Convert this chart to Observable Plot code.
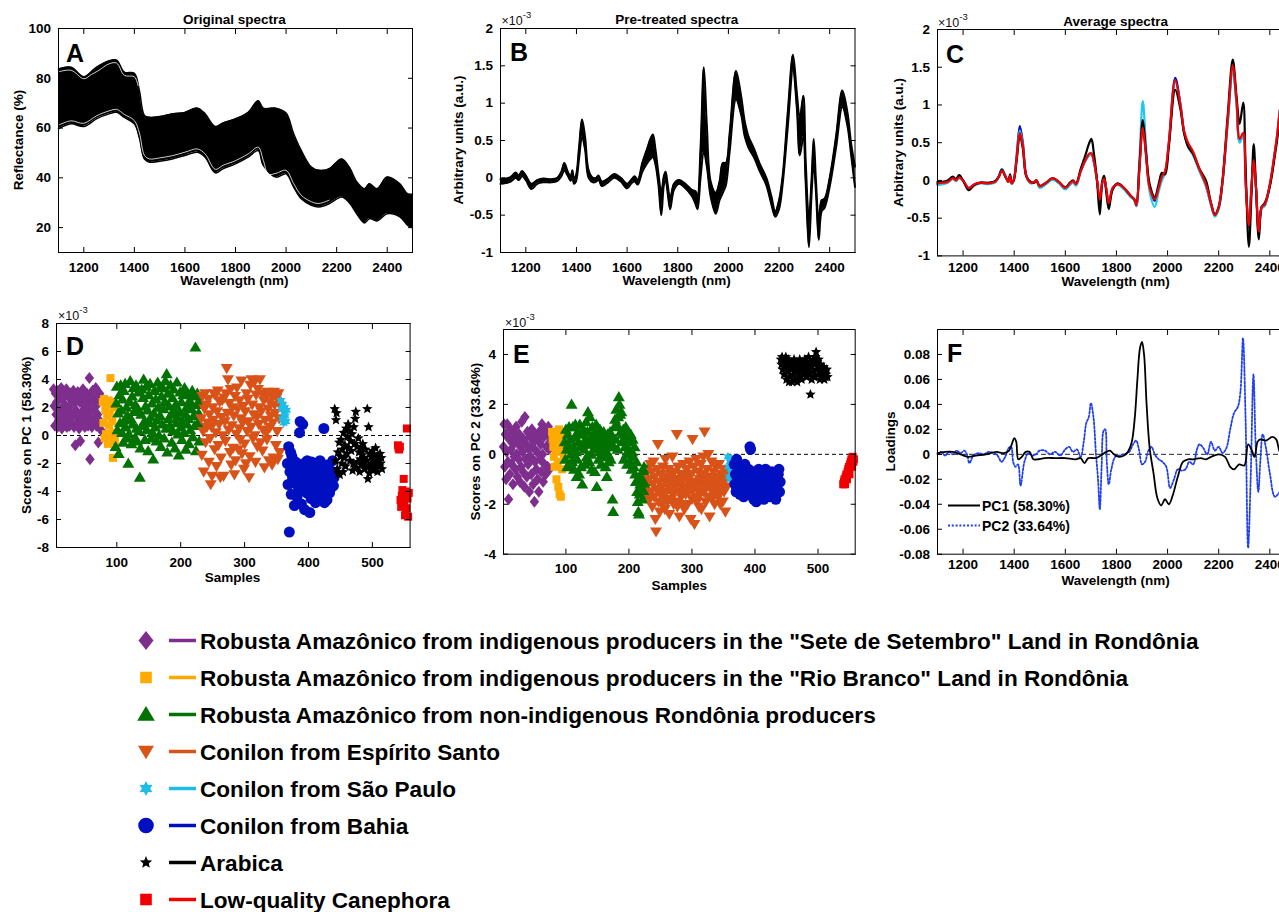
<!DOCTYPE html>
<html><head><meta charset="utf-8">
<script src="https://cdn.jsdelivr.net/npm/d3@7"></script>
<script src="https://cdn.jsdelivr.net/npm/@observablehq/plot@0.6"></script>
<style>
html,body{margin:0;padding:0;background:#fff;overflow:hidden;}
body{width:1279px;height:912px;position:relative;font-family:'Liberation Sans',Arial,Helvetica,sans-serif;}
.pan{position:absolute;}
#overlay{position:absolute;left:0;top:0;pointer-events:none;}
</style></head><body>
<script>
// ---------------- DATA ----------------
// Panel A: envelope of original spectra (reflectance %)
const A_WL = [1100,1150,1200,1250,1300,1330,1360,1400,1420,1440,1460,1500,1550,1600,1650,1680,1720,1750,1800,1850,1890,1910,1960,2000,2030,2060,2100,2130,2170,2220,2250,2280,2310,2330,2360,2400,2450,2480,2500];
const A_HI = [83.7,84.4,80.6,84.4,87,87.3,82.5,82,75,65,64.3,64.6,65.7,66.3,68,65.7,60.6,62,63.7,66.3,71,68,68,66,57.7,51,44.3,43,43.6,47.6,44.3,38.3,35.6,37.6,35.6,40.3,37.6,33.6,33.4];
const A_LO = [59.7,61.7,60.6,63.7,65.7,66.3,64.3,61.7,56,47.5,46.3,46.7,47.6,49,50.3,48.3,42,43.6,45.6,48.3,51,45,40.3,41.6,36.3,31.6,29,28.3,29.6,32.3,30,25.5,21.9,23.6,22.7,25.6,24.3,21,19.9];
// individual spectra visible as white gaps near the band edges [wavelength, reflectance]
const A_GAP_HI = [[1100,82.6],[1150,83.2],[1200,79.8],[1230,81.5],[1260,83.2],[1300,85.8],[1330,86.1],[1360,81.2],[1400,80.6],[1415,77]];
const A_GAP_LO = [[1100,61.2],[1150,62.9],[1200,61.9],[1250,64.9],[1300,66.9],[1330,67.5],[1360,65.5],[1400,63],[1420,58],[1440,49],[1460,47.6],[1500,48],[1550,48.9],[1600,50.3],[1650,51.6],[1680,49.6],[1720,43.4],[1750,45],[1800,46.9],[1850,49.6],[1890,52.3],[1910,47],[1930,41.5],[1960,41.8],[2000,43],[2030,37.7],[2060,33],[2100,30.4],[2130,29.7],[2170,31]];

// Panels B and C: shared wavelength grid (nm), values in units of 1e-3
const BC_WL = [1100,1120,1140,1160,1172,1185,1200,1222,1245,1270,
1300,1325,1340,1352,1365,1377,1384,1390,1398,1410,
1422,1434,1448,1465,1478,1487,1500,1525,1550,1575,
1600,1618,1630,1642,1660,1680,1692,1702,1712,1724,
1735,1745,1752,1760,1770,1785,1805,1830,1855,1870,
1878,1890,1903,1915,1930,1950,1965,1978,1990,2005,
2030,2050,2065,2080,2100,2125,2150,2170,2185,2200,
2215,2235,2255,2270,2282,2296,2305,2318,2328,2337,
2346,2357,2368,2380,2400,2425,2450,2470,2485,2500];
const B_HI = [-0.02,-0.01,0.01,0.07,0.03,0.09,0.03,-0.08,-0.03,-0.01,
-0.02,0.0,0.08,0.2,0.09,0.02,0.1,-0.01,0.03,0.4,
0.78,0.55,0.1,0.0,0.0,0.03,-0.05,-0.01,0.05,0.0,
-0.08,-0.02,0.02,-0.03,0.2,0.4,0.52,0.58,0.38,0.05,
-0.2,0.02,0.08,-0.08,-0.28,-0.08,-0.03,-0.08,-0.16,-0.18,
-0.25,0.4,1.48,0.7,-0.05,-0.2,-0.05,0.2,0.2,0.6,
1.43,1.1,0.75,0.55,0.4,0.18,0.0,-0.25,-0.45,-0.3,
0.05,0.9,1.65,1.15,0.8,1.1,0.25,-0.55,-0.05,0.52,
-0.05,-0.6,-0.3,-0.28,0.0,0.55,1.17,0.88,0.45,0.15];
const B_LO = [-0.08,-0.07,-0.05,0.0,-0.03,0.02,-0.03,-0.15,-0.08,-0.06,
-0.06,-0.04,0.02,0.1,0.03,-0.04,0.03,-0.08,-0.05,0.25,
0.55,0.38,0.0,-0.06,-0.05,-0.02,-0.11,-0.06,0.0,-0.05,
-0.14,-0.07,-0.05,-0.09,0.08,0.2,0.25,0.28,0.18,-0.1,
-0.5,-0.1,-0.02,-0.2,-0.42,-0.16,-0.08,-0.14,-0.24,-0.35,
-0.42,0.0,0.35,0.15,-0.25,-0.48,-0.3,-0.2,-0.1,0.35,
1.05,0.85,0.55,0.4,0.28,0.08,-0.1,-0.36,-0.52,-0.42,
-0.06,0.7,1.45,0.95,0.3,0.55,-0.05,-0.93,-0.25,0.2,
-0.2,-0.83,-0.45,-0.4,-0.12,0.4,0.95,0.7,0.3,-0.12];
const C_RED = [-0.04,-0.03,-0.02,0.03,0.0,0.04,0.0,-0.1,-0.05,-0.03,
-0.04,-0.02,0.05,0.13,0.06,-0.02,0.06,-0.04,0.0,0.3,
0.63,0.45,0.05,-0.03,-0.02,0.0,-0.08,-0.03,0.03,-0.02,
-0.1,-0.04,-0.01,-0.05,0.12,0.28,0.35,0.36,0.25,0.0,
-0.25,-0.02,0.02,-0.1,-0.3,-0.1,-0.05,-0.1,-0.2,-0.25,
-0.33,0.15,0.7,0.35,-0.1,-0.25,-0.1,0.05,0.12,0.5,
1.33,1.0,0.65,0.5,0.38,0.15,-0.05,-0.3,-0.46,-0.35,
0.0,0.8,1.52,1.05,0.55,0.63,0.0,-0.6,-0.1,0.27,
-0.1,-0.68,-0.35,-0.32,-0.05,0.5,1.1,0.8,0.4,-0.05];
const C_BLACK = [-0.02,-0.02,0.0,0.05,0.02,0.07,0.0,-0.13,-0.06,-0.03,
-0.03,-0.01,0.05,0.14,0.05,0.0,0.08,-0.03,0.0,0.28,
0.6,0.42,0.05,-0.02,-0.03,0.0,-0.07,-0.03,0.03,-0.02,
-0.09,-0.03,0.0,-0.04,0.15,0.35,0.48,0.55,0.35,0.0,
-0.45,0.0,0.06,-0.15,-0.38,-0.12,-0.04,-0.1,-0.2,-0.25,
-0.3,0.2,0.8,0.4,-0.05,-0.22,-0.05,0.1,0.08,0.45,
1.2,0.95,0.62,0.45,0.35,0.15,0.0,-0.3,-0.45,-0.35,
0.0,0.85,1.6,1.1,0.75,1.03,0.2,-0.88,-0.2,0.48,
-0.1,-0.78,-0.35,-0.3,-0.08,0.45,0.97,0.75,0.4,0.0];
const C_CYAN = [-0.06,-0.05,-0.03,0.02,-0.01,0.03,-0.01,-0.1,-0.06,-0.04,
-0.05,-0.03,0.05,0.15,0.07,-0.02,0.05,-0.05,0.0,0.32,
0.66,0.46,0.04,-0.04,-0.03,-0.01,-0.1,-0.05,0.01,-0.04,
-0.12,-0.06,-0.03,-0.07,0.12,0.27,0.33,0.34,0.24,0.0,
-0.28,-0.03,0.02,-0.12,-0.32,-0.12,-0.06,-0.12,-0.22,-0.26,
-0.34,0.3,1.05,0.5,-0.15,-0.35,-0.15,0.0,0.1,0.48,
1.3,1.0,0.62,0.45,0.33,0.12,-0.08,-0.33,-0.48,-0.38,
-0.03,0.75,1.45,1.0,0.5,0.6,0.0,-0.58,-0.1,0.28,
-0.1,-0.68,-0.37,-0.34,-0.07,0.5,1.08,0.8,0.4,-0.05];
const C_BLUE = [-0.05,-0.04,-0.02,0.03,0.0,0.04,0.0,-0.1,-0.05,-0.03,
-0.04,-0.02,0.06,0.15,0.06,-0.02,0.05,-0.04,0.0,0.35,
0.72,0.5,0.06,-0.03,-0.02,0.0,-0.09,-0.04,0.02,-0.03,
-0.11,-0.05,-0.02,-0.06,0.12,0.27,0.33,0.35,0.24,0.0,
-0.27,-0.03,0.02,-0.11,-0.31,-0.11,-0.05,-0.11,-0.21,-0.26,
-0.34,0.2,0.75,0.38,-0.1,-0.27,-0.11,0.03,0.1,0.5,
1.36,1.02,0.64,0.47,0.35,0.13,-0.07,-0.32,-0.47,-0.37,
-0.02,0.76,1.48,1.02,0.52,0.6,0.0,-0.62,-0.1,0.28,
-0.1,-0.7,-0.36,-0.33,-0.06,0.5,1.1,0.8,0.4,-0.05];

// Panel F: loadings [wavelength, loading]
const PC1 = [[1100,0.001],[1130,0.002],[1160,0.002],[1190,0.0],[1220,-0.002],[1250,-0.001],[1290,0.0],[1330,0.002],[1360,0.001],[1380,0.003],[1392,0.009],[1400,0.013],[1408,0.01],[1416,-0.004],[1430,-0.002],[1445,0.002],[1460,0.002],[1475,-0.004],[1490,-0.004],[1520,-0.003],[1560,-0.003],[1600,-0.003],[1640,-0.004],[1660,-0.003],[1675,-0.007],[1690,-0.003],[1720,-0.003],[1745,0.0],[1760,0.002],[1775,0.003],[1790,0.0],[1810,-0.002],[1830,-0.001],[1845,0.002],[1860,0.01],[1872,0.03],[1882,0.06],[1892,0.085],[1900,0.09],[1908,0.08],[1918,0.04],[1930,0.005],[1945,-0.015],[1960,-0.035],[1975,-0.041],[1990,-0.036],[2005,-0.04],[2020,-0.033],[2040,-0.018],[2060,-0.006],[2080,-0.004],[2100,-0.004],[2130,-0.003],[2150,-0.004],[2170,-0.002],[2200,0.0],[2225,-0.002],[2245,-0.01],[2260,-0.012],[2280,-0.008],[2300,-0.009],[2315,0.008],[2328,0.004],[2340,-0.002],[2352,0.01],[2362,0.012],[2385,0.011],[2410,0.014],[2425,0.012],[2437,0.003],[2450,-0.002],[2470,-0.002],[2500,0.0]];
const PC2 = [[1100,0.0],[1115,0.002],[1130,-0.001],[1145,0.002],[1160,0.0],[1175,0.003],[1190,0.001],[1205,0.003],[1215,0.0],[1225,-0.007],[1240,-0.001],[1260,0.001],[1280,0.0],[1300,0.002],[1320,0.001],[1335,-0.001],[1350,-0.006],[1365,-0.002],[1378,0.005],[1388,0.006],[1396,-0.006],[1405,-0.01],[1415,-0.008],[1425,-0.025],[1440,-0.006],[1455,0.001],[1470,-0.001],[1485,0.0],[1500,0.003],[1520,0.003],[1540,0.0],[1560,0.002],[1580,-0.001],[1600,0.004],[1615,0.006],[1630,0.002],[1645,0.004],[1660,-0.002],[1672,0.01],[1682,0.025],[1692,0.03],[1700,0.041],[1710,0.03],[1720,0.0],[1728,-0.02],[1735,-0.044],[1742,-0.01],[1750,0.019],[1756,0.02],[1762,-0.005],[1770,-0.024],[1780,-0.012],[1795,-0.002],[1810,-0.001],[1830,0.0],[1850,0.002],[1865,0.008],[1877,0.011],[1888,0.004],[1900,-0.008],[1912,-0.006],[1925,0.003],[1937,0.006],[1950,0.0],[1965,-0.004],[1980,-0.006],[1995,-0.01],[2010,-0.027],[2025,-0.02],[2040,-0.012],[2055,-0.013],[2070,-0.012],[2085,-0.006],[2100,-0.008],[2115,0.004],[2125,0.008],[2140,0.005],[2155,0.0],[2170,0.01],[2185,0.003],[2200,0.006],[2215,0.001],[2230,0.005],[2245,0.02],[2260,0.033],[2275,0.038],[2285,0.05],[2295,0.093],[2305,0.03],[2315,-0.075],[2325,-0.02],[2336,0.064],[2345,0.005],[2355,-0.03],[2363,-0.005],[2372,0.016],[2385,0.005],[2400,-0.015],[2420,-0.034],[2440,-0.03],[2460,-0.027],[2480,-0.025],[2500,-0.02]];

// Groups (classes)
const GROUP_NAMES = [
 'Robusta Amazônico from indigenous producers in the "Sete de Setembro" Land in Rondônia',
 'Robusta Amazônico from indigenous producers in the "Rio Branco" Land in Rondônia',
 'Robusta Amazônico from non-indigenous Rondônia producers',
 'Conilon from Espírito Santo',
 'Conilon from São Paulo',
 'Conilon from Bahia',
 'Arabica',
 'Low-quality Canephora'];
const GROUP_COLORS = ["#7E2F8E","#FFAA00","#027202","#D95319","#1FBDE6","#0010C0","#000000","#F00000"];
const GROUP_START = [1,78,98,232,357,367,441,540];   // first sample index of each class

// Panel D: scores on PC1 (x 1e-3), consecutive samples from GROUP_START
const D_PURPLE = [3.3,2.1,0.7,3.0,1.5,2.4,0.6,3.2,1.1,2.8,0.9,1.9,3.4,0.5,2.6,1.3,3.1,0.8,2.2,1.7,3.3,0.6,2.9,1.2,2.0,0.7,3.0,1.6,2.5,0.9,1.4,3.2,0.6,2.3,-0.7,1.8,2.7,0.9,3.1,1.2,0.5,2.4,-0.4,1.6,2.9,0.8,3.3,1.4,2.1,0.6,2.6,1.0,3.0,1.7,0.7,2.3,4.1,-1.7,1.3,2.8,0.6,3.2,1.9,0.9,2.5,1.1,3.4,0.7,2.2,1.5,-0.5,2.9,3.0,1.0,0.4];
const D_YELLOW = [2.4,0.9,2.6,-0.2,1.8,0.1,2.2,1.4,-0.6,2.5,0.7,1.6,4.1,2.4,-0.3,1.0,-1.6,0.2,2.0,-0.4];
const D_GREEN = [-0.8,2.3,3.5,0.4,1.6,-1.3,2.9,0.9,3.6,1.8,0.2,2.6,-0.5,3.2,1.1,3.7,0.6,2.0,-0.2,1.4,-2.0,0.1,2.4,3.9,1.2,-0.6,2.8,0.8,3.4,1.7,-0.2,2.2,3.6,0.5,-0.4,1.9,3.1,0.3,-3.0,-0.9,1.5,3.3,0.7,2.7,4.0,1.0,-0.3,2.1,3.5,0.4,1.8,-1.1,2.9,0.9,3.7,1.3,-0.2,2.3,0.2,-1.7,1.6,3.2,0.6,2.6,-0.4,1.1,3.8,2.0,0.0,3.4,1.4,-0.8,2.8,0.8,3.4,1.9,-0.2,2.4,3.9,0.5,4.4,-1.2,3.0,1.2,2.1,0.7,3.6,1.5,-0.5,2.7,0.3,3.3,1.8,-0.9,2.2,0.9,3.8,1.3,0.1,-1.4,1.7,3.1,0.6,2.4,-0.3,1.0,2.9,0.2,3.4,1.5,-1.0,2.0,0.8,3.0,1.2,-0.6,2.5,0.4,2.2,1.9,3.2,-0.1,1.4,2.8,0.7,6.3,-1.1,2.2,3.0,0.9,1.6,-0.4,2.4];
const D_ORANGE = [1.2,-1.4,2.8,0.3,-2.6,1.9,3.0,-0.5,2.2,0.6,0.9,2.6,-1.9,1.5,-0.2,-3.5,0.6,-2.9,2.0,1.1,3.0,-1.0,2.9,0.2,-2.2,1.7,3.2,-0.7,0.8,2.4,-3.0,-1.6,1.3,2.5,0.0,-2.9,2.7,1.0,-0.4,3.0,4.8,1.6,4.0,0.4,2.3,-1.2,3.3,-2.1,0.7,2.0,-0.9,1.4,-2.8,2.8,-1.8,0.1,3.4,1.9,-1.0,0.5,2.5,-0.3,1.2,3.9,-1.3,0.9,2.1,-2.4,-0.6,1.7,-2.0,3.0,0.3,2.6,1.0,-3.0,-1.5,3.6,0.6,4.0,2.2,-0.2,1.5,3.8,0.0,-1.9,2.9,1.3,-0.8,3.3,0.8,2.0,4.0,-0.5,1.7,3.0,-1.1,0.4,2.5,-2.3,1.1,2.8,0.2,-0.3,3.1,1.9,-1.8,2.4,0.6,1.4,2.9,-2.1,0.9,-1.6,3.1,2.2,1.6,-0.7,2.7,0.3,-1.7,3.0,1.2,-1.2,2.1];
const D_CYAN = [2.5,1.9,1.2,2.2,0.9,1.6,2.0,1.4,1.0,1.8];
const D_BLUE = [-2.0,-3.5,-0.8,-6.9,-2.6,-1.2,-4.2,-1.5,-3.0,-2.4,-2.2,-5.0,-3.4,-1.9,-2.8,-4.4,-3.6,-2.5,-4.0,0.2,1.0,-3.1,-4.9,-2.4,0.8,-3.8,-2.0,-5.3,-3.2,-2.7,-4.1,-1.8,-3.5,-2.3,-3.9,-5.5,-2.9,-4.5,-1.9,-3.3,-2.5,-4.2,-3.0,-2.0,-4.8,-3.6,-2.6,-3.9,-2.8,-4.4,-3.3,-1.8,-3.1,-2.2,-4.0,-2.9,-3.6,0.5,-4.8,-2.4,-3.8,-2.1,-4.6,-3.0,-2.7,-3.4,-4.1,-2.5,-3.2,-3.7,-2.6,-1.8,-3.6,-3.0];
const D_BLACK = [1.9,-1.8,1.1,1.6,-2.4,-1.2,-2.7,-0.5,-2.8,-1.5,-0.3,-2.0,-1.0,-2.6,0.2,-1.6,-0.7,-2.2,0.5,-1.3,-0.1,0.8,-0.9,0.3,-1.8,-0.4,-1.1,0.1,-2.5,-2.0,0.6,-0.6,1.2,1.7,-2.3,-0.8,-1.9,-0.2,-1.2,-2.6,-1.7,-0.9,-2.1,-1.4,-0.6,-2.0,-1.6,-2.4,-1.0,-2.2,-1.8,1.9,-3.1,0.6,-2.7,-1.3,-2.2,-1.5,-2.0,-1.1,-2.5,-1.9,-1.4,-2.3,-0.9,-1.7,-2.1,-2.6,-1.5,-1.8,-2.2,-1.3,-2.0,-1.6,-2.4];
const D_RED = [-0.7,-0.9,-1.0,-0.8,-4.6,-5.1,-4.3,-3.9,-5.0,-3.1,-4.8,-5.7,-4.0,-5.2,0.5,-4.5,-5.8,-4.1];

// Panel E: scores on PC2 (x 1e-3)
const E_PURPLE = [0.3,1.2,-0.5,0.8,-1.0,0.1,1.2,-0.3,-1.8,0.6,-0.8,1.0,0.2,-0.4,0.9,-1.2,0.4,-0.1,0.7,-0.6,1.1,0.0,-0.9,0.5,-0.2,0.8,-1.1,0.3,-0.5,1.3,0.1,-0.7,0.6,-1.3,1.5,-0.2,0.4,-0.9,0.9,-0.4,0.2,-1.5,0.7,-0.1,-0.8,1.0,0.3,-1.2,0.5,-1.9,-0.3,0.8,-0.6,0.1,-1.0,0.6,-1.5,0.9,-0.2,0.4,-0.7,1.2,0.0,-1.1,0.7,-0.4,1.0,-0.8,0.3,0.8,-0.5,1.1,0.2,-0.6,0.5];
const E_YELLOW = [0.9,0.6,0.3,-0.1,-0.5,0.8,0.1,-1.0,0.5,-0.3,-1.3,1.0,-1.6,0.2,-1.7,0.7,-0.6,0.4,0.9,0.0];
const E_GREEN = [0.5,-0.2,1.0,0.2,-0.5,0.8,0.4,1.1,-0.4,0.6,0.0,2.0,-0.3,1.1,0.3,-0.6,0.7,1.2,0.1,-0.9,-0.2,0.9,0.5,-0.8,1.2,0.3,-0.5,0.8,-1.2,0.4,1.0,0.2,-0.4,0.6,1.3,-0.1,0.9,1.7,0.4,-0.3,1.5,0.7,0.0,-0.6,1.1,0.5,0.2,0.9,-0.7,0.4,1.2,-1.3,0.6,0.8,-0.2,0.3,1.0,0.1,-0.4,0.7,0.4,-0.1,0.9,0.2,0.6,-0.5,0.3,-0.9,0.8,0.0,-0.3,0.5,0.9,-0.2,0.4,0.7,-1.8,-2.3,0.3,1.1,1.4,0.6,1.8,1.2,0.2,1.5,2.3,2.0,1.6,0.9,1.7,0.5,0.8,1.0,-0.2,0.6,0.3,1.1,0.0,-0.4,0.7,0.9,0.2,-0.3,0.5,0.8,-0.6,0.1,0.6,-0.1,-0.5,0.3,-0.8,-1.1,-0.3,-1.5,-1.9,-2.3,-2.4,-1.6,-1.2,-0.9,-1.4,-0.7,-1.8,-1.0,-0.5,-1.3,-0.8,-1.6,-1.1,-0.6,-1.4];
const E_ORANGE = [-1.0,-1.8,-0.4,-1.5,-0.7,-2.1,-1.2,-0.3,-1.7,-0.9,-2.6,-3.1,-1.4,-0.6,0.4,-1.9,-1.1,-2.3,-1.6,-0.8,-1.3,-2.0,-0.5,-1.7,-1.0,-2.2,-0.2,-1.5,-0.9,-1.9,-1.2,-0.6,-2.4,-1.4,-0.8,-1.8,-1.1,-0.1,-1.6,-2.0,-0.7,-1.3,-1.9,-1.0,0.8,-2.1,-0.5,-1.5,-2.5,-1.2,-0.8,-1.7,-1.1,-2.0,-0.4,-1.4,-2.2,-0.9,-1.6,-1.3,-0.6,-2.0,-1.0,-1.5,-0.3,-1.2,-2.6,-0.8,-1.8,0.6,-1.4,-0.5,-2.8,-1.1,-1.7,-0.2,-1.9,-1.3,-0.7,-2.1,-1.0,-1.6,-0.4,-2.2,-1.2,-0.8,-0.1,-1.5,0.9,-1.0,-1.9,-1.3,-0.6,-1.7,0.0,-1.1,-2.5,-0.9,-1.4,-0.3,-1.8,-1.2,-0.7,-1.5,-2.0,-1.0,-0.5,-1.6,-1.3,-0.9,-1.7,-0.4,-1.1,-2.0,-1.4,-0.8,-1.2,-1.9,-0.6,-1.5,-1.0,-2.3,-0.7,-1.3,-0.9];
const E_CYAN = [-0.1,-0.5,-0.9,-0.3,-1.0,-0.6,-0.2,-0.8,-0.4,-0.7];
const E_BLUE = [-0.4,-1.2,-0.8,-1.5,-0.2,-1.0,-1.3,-0.6,-0.9,-1.6,-0.5,-1.1,-1.4,-0.7,-1.0,-1.7,-0.9,-0.4,-1.2,-1.5,-0.8,-1.3,-1.0,-0.6,-1.6,0.3,0.2,-1.1,-1.4,-0.8,-1.2,-1.8,-0.7,-1.0,-1.4,-1.9,-0.9,-1.2,-1.5,-0.6,-1.1,-1.3,-0.8,-1.6,-1.0,-0.7,-1.2,-1.8,-0.9,-1.4,-0.6,-1.1,-1.5,-0.9,-1.3,-1.0,-1.7,-0.8,-1.2,-1.4,-0.7,-1.0,-1.6,-1.1,-0.9,-1.3,-1.8,-1.0,-1.4,-1.2,-0.8,-0.6,-1.5,-1.1];
const E_BLACK = [3.8,3.6,3.9,3.4,3.7,3.2,3.8,3.5,3.9,3.0,3.6,3.3,3.8,2.9,3.5,3.1,3.7,3.4,2.9,3.6,3.2,3.8,3.0,3.5,3.3,3.7,2.9,3.4,3.6,3.1,3.8,3.3,3.5,3.0,3.7,3.4,3.2,3.6,3.8,3.3,3.5,3.1,3.7,3.4,3.9,3.2,3.6,2.4,3.5,3.0,3.7,3.3,3.8,3.1,3.6,3.9,4.1,3.4,3.7,3.2,3.8,3.5,3.0,3.6,3.3,3.1,3.4,3.2,3.5,3.0,3.3,3.1,3.2,3.4,3.1];
const E_RED = [-1.2,-1.1,-1.0,-1.2,-0.9,-0.8,-1.0,-0.7,-0.6,-0.5,-0.8,-0.4,-0.3,-0.2,-0.5,-0.1,-0.3,-0.2];

// Tick values
const WL_TICKS = [1200,1400,1600,1800,2000,2200,2400];
const A_YTICKS = [20,40,60,80,100];
const BC_YTICKS = [-1,-0.5,0,0.5,1,1.5,2];
const S_TICKS = [100,200,300,400,500];
const D_YTICKS = [-8,-6,-4,-2,0,2,4,6,8];
const E_YTICKS = [-4,-2,0,2,4];
const F_YTICKS = [-0.08,-0.06,-0.04,-0.02,0,0.02,0.04,0.06,0.08];

// ---------------- RENDER ----------------
const FONT = "'Liberation Sans', Arial, Helvetica, sans-serif";
const fmt = d => String(d);

function polySym(pts){ return {draw(ctx,size){const r=Math.sqrt(size/Math.PI); pts.forEach(([a,b],i)=> i?ctx.lineTo(a*r,b*r):ctx.moveTo(a*r,b*r)); ctx.closePath();}}; }
function starPts(n, inner){ const p=[]; for(let i=0;i<2*n;i++){const a=Math.PI*i/n - Math.PI/2; const rr = i%2?inner:1; p.push([rr*Math.cos(a), rr*Math.sin(a)]);} return p; }
const SYM = {
 diamond: polySym([[0,-1],[0.79,0],[0,1],[-0.79,0]]),
 square: polySym([[-1,-1],[1,-1],[1,1],[-1,1]]),
 triUp: polySym([[0,-0.98],[1,0.72],[-1,0.72]]),
 triDown: polySym([[0,0.98],[1,-0.72],[-1,-0.72]]),
 hexstar: polySym(starPts(6,0.55)),
 star: polySym(starPts(5,0.45)),
 circle: {draw(ctx,size){const r=Math.sqrt(size/Math.PI); ctx.moveTo(r,0); ctx.arc(0,0,r,0,2*Math.PI); ctx.closePath();}}
};
const GROUP_SYM = ["diamond","square","triUp","triDown","hexstar","circle","star","square"];
const GROUP_R = [6,4,6,6,5,5.5,5.5,4];
const LEGEND_R = [9.5,5.8,8.8,8,7.5,7.8,6.5,5.8];

function panel({frame:[L,T,R,B], x, y, xticks, yticks, xoff=10, marks}) {
  const ml=70, mr=10, mt=10, mb=40;
  const svg = Plot.plot({
    width: (R-L)+ml+mr, height: (B-T)+mt+mb,
    marginLeft: ml, marginRight: mr, marginTop: mt, marginBottom: mb,
    x: {domain: x}, y: {domain: y},
    style: {fontFamily: FONT, color: "#000", background: "transparent", overflow: "visible", maxWidth: "none"},
    marks: [
      ...marks,
      Plot.frame({stroke: "#000", strokeWidth: 1}),
      Plot.axisX(xticks, {anchor: "bottom", tickSize: -5, tickPadding: 5 + xoff, tickFormat: fmt, label: null, fontSize: 13.5, fontWeight: "bold"}),
      Plot.axisX(xticks, {anchor: "top", tickSize: -5, tickFormat: () => "", label: null}),
      Plot.axisY(yticks, {anchor: "left", tickSize: -5, tickPadding: 12.5, tickFormat: fmt, label: null, fontSize: 13.5, fontWeight: "bold"}),
      Plot.axisY(yticks, {anchor: "right", tickSize: -5, tickFormat: () => "", label: null})
    ]
  });
  const div = document.createElement("div");
  div.className = "pan";
  div.style.left = (L-ml)+"px"; div.style.top = (T-mt)+"px";
  div.appendChild(svg);
  document.body.appendChild(div);
}

const CURVE = "catmull-rom";
// A
const aRows = A_WL.map((w,i)=>({w, lo:A_LO[i], hi:A_HI[i]}));
panel({frame:[57.5,28,411.5,252], x:[1100,2500], y:[10,100], xticks:WL_TICKS, yticks:A_YTICKS, marks:[
  Plot.areaY(aRows, {x:"w", y1:"lo", y2:"hi", fill:"#000", curve:CURVE}),
  Plot.line(aRows, {x:"w", y:"hi", stroke:"#000", strokeWidth:1.5, curve:CURVE}),
  Plot.line(aRows, {x:"w", y:"lo", stroke:"#000", strokeWidth:1.5, curve:CURVE}),
  Plot.line(A_GAP_HI, {x:d=>d[0], y:d=>d[1], stroke:"#fff", strokeWidth:0.8, curve:CURVE}),
  Plot.line(A_GAP_LO, {x:d=>d[0], y:d=>d[1], stroke:"#fff", strokeWidth:0.8, curve:CURVE})
]});
// B
const bRows = BC_WL.map((w,i)=>({w, lo:B_LO[i], hi:B_HI[i]}));
panel({frame:[499.5,28,854,252], x:[1100,2500], y:[-1,2], xticks:WL_TICKS, yticks:BC_YTICKS, marks:[
  Plot.areaY(bRows, {x:"w", y1:"lo", y2:"hi", fill:"#000", curve:CURVE}),
  Plot.line(bRows, {x:"w", y:"hi", stroke:"#000", strokeWidth:2, curve:CURVE}),
  Plot.line(bRows, {x:"w", y:"lo", stroke:"#000", strokeWidth:2, curve:CURVE})
]});
// C
const cSeries = [[C_BLUE,"#0010C0"],[C_CYAN,"#1FC8EE"],[C_BLACK,"#000000"],[C_RED,"#F00000"]];
panel({frame:[936.7,29.3,1294.6,255.7], x:[1100,2500], y:[-1,2], xticks:WL_TICKS, yticks:BC_YTICKS, xoff:7, marks:
  cSeries.map(([vals,col]) => Plot.line(BC_WL.map((w,i)=>({w, v:vals[i]})), {x:"w", y:"v", stroke:col, strokeWidth:2.2, curve:CURVE}))
});
// D & E
function scoreMarks(groups){
  return groups.map((vals,g) => Plot.dot(vals.map((v,i)=>({s:GROUP_START[g]+i, v})), {x:"s", y:"v", symbol:SYM[GROUP_SYM[g]], r:GROUP_R[g], fill:GROUP_COLORS[g], stroke:null}));
}
panel({frame:[55.7,323.3,409.3,547.3], x:[5.6,559], y:[-8,8], xticks:S_TICKS, yticks:D_YTICKS, xoff:9.6, marks:[
  Plot.ruleY([0], {stroke:"#000", strokeDasharray:"4,3", strokeWidth:1}),
  ...scoreMarks([D_PURPLE,D_YELLOW,D_GREEN,D_ORANGE,D_CYAN,D_BLUE,D_BLACK,D_RED])
]});
panel({frame:[503.3,329.3,855,554], x:[1,559], y:[-4,5], xticks:S_TICKS, yticks:E_YTICKS, xoff:9.5, marks:[
  Plot.ruleY([0], {stroke:"#000", strokeDasharray:"4,3", strokeWidth:1}),
  ...scoreMarks([E_PURPLE,E_YELLOW,E_GREEN,E_ORANGE,E_CYAN,E_BLUE,E_BLACK,E_RED])
]});
// F
panel({frame:[936.7,329.3,1294.6,554], x:[1100,2500], y:[-0.08,0.1], xticks:WL_TICKS, yticks:F_YTICKS, xoff:5.5, marks:[
  Plot.ruleY([0], {stroke:"#222", strokeDasharray:"5,3", strokeWidth:1}),
  Plot.line(PC2, {x:d=>d[0], y:d=>d[1], stroke:"#2040F0", strokeWidth:1.8, strokeDasharray:"2,1.8", curve:CURVE}),
  Plot.line(PC1, {x:d=>d[0], y:d=>d[1], stroke:"#000", strokeWidth:1.8, curve:CURVE})
]});

// ---------------- TEXT OVERLAY ----------------
const ov = d3.select("body").append("svg").attr("id","overlay").attr("width",1279).attr("height",912).style("font-family",FONT);
function txt(x,y,s,o={}){
  const t = ov.append("text").attr("x",x).attr("y",y).attr("font-size",o.size||13.5).attr("font-weight",o.weight||"bold")
    .attr("text-anchor",o.anchor||"start").attr("fill",o.fill||"#000").text(s);
  if (o.rotate) t.attr("transform",`rotate(${o.rotate},${x},${y})`);
  return t;
}
function expo(x,y){
  const t = ov.append("text").attr("x",x).attr("y",y).attr("font-size",12.5).attr("font-weight","normal").attr("fill","#111");
  t.append("tspan").text("×10");
  t.append("tspan").attr("dy",-7).attr("font-size",9.5).text("-3");
}
// titles
txt(234.5,24.3,"Original spectra",{anchor:"middle"});
txt(676.75,24.3,"Pre-treated spectra",{anchor:"middle"});
txt(1115.65,25.7,"Average spectra",{anchor:"middle"});
// x labels
txt(234.5,285,"Wavelength (nm)",{anchor:"middle"});
txt(676.75,285,"Wavelength (nm)",{anchor:"middle"});
txt(1115.65,286,"Wavelength (nm)",{anchor:"middle"});
txt(232.5,581.7,"Samples",{anchor:"middle"});
txt(679.15,589.5,"Samples",{anchor:"middle"});
txt(1115.65,584.5,"Wavelength (nm)",{anchor:"middle"});
// y labels
txt(23.3,140,"Reflectance (%)",{anchor:"middle",rotate:-90});
txt(463,140,"Arbitrary units (a.u.)",{anchor:"middle",rotate:-90});
txt(903,142.5,"Arbitrary units (a.u.)",{anchor:"middle",rotate:-90});
txt(31.5,435.3,"Scores on PC 1 (58.30%)",{anchor:"middle",rotate:-90});
txt(480,441.6,"Scores on PC 2 (33.64%)",{anchor:"middle",rotate:-90});
txt(895,441.6,"Loadings",{anchor:"middle",rotate:-90});
// exponents
expo(501.5,25); expo(938,26.7); expo(58,320); expo(505,327.3);
// panel letters
[["A",66,62],["B",510,61],["C",946,63.3],["D",66,355],["E",513,363],["F",947,362]].forEach(([s,x,y])=>txt(x,y,s,{size:25}));
// F legend
ov.append("line").attr("x1",948).attr("x2",980).attr("y1",505.5).attr("y2",505.5).attr("stroke","#000").attr("stroke-width",2);
txt(982,511,"PC1 (58.30%)",{size:14});
ov.append("line").attr("x1",948).attr("x2",980).attr("y1",525.5).attr("y2",525.5).attr("stroke","#2040F0").attr("stroke-width",2).attr("stroke-dasharray","2,1.8");
txt(982,531,"PC2 (33.64%)",{size:14});
// main legend
GROUP_NAMES.forEach((name,g)=>{
  const cy = 640.5 + 37*g;
  const p = d3.path(); const r = LEGEND_R[g];
  SYM[GROUP_SYM[g]].draw(p, Math.PI*r*r);
  ov.append("path").attr("d", p.toString()).attr("transform",`translate(146,${cy})`).attr("fill",GROUP_COLORS[g]);
  ov.append("line").attr("x1",169).attr("x2",196).attr("y1",cy).attr("y2",cy).attr("stroke",GROUP_COLORS[g]).attr("stroke-width",3.5);
  txt(200,cy+8.1,name,{size:22.6});
});
</script>
</body></html>
